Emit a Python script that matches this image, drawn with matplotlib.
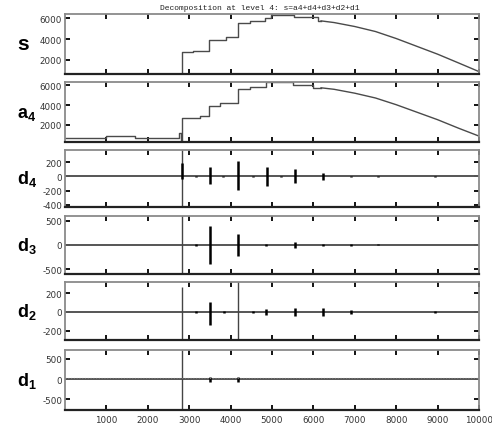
import matplotlib
matplotlib.use("Agg")
import matplotlib.pyplot as plt

# ---------------- data ----------------
title = "Decomposition at level 4: s=a4+d4+d3+d2+d1"
x_ticks = [1000, 2000, 3000, 4000, 5000, 6000, 7000, 8000, 9000, 10000]

# signal s : stepped part then descending curve
s_step_x = [0, 2830, 3100, 3490, 3900, 4180, 4460, 4830, 4980, 5540, 6100]
s_step_y = [690, 2750, 2850, 3950, 4200, 5550, 5770, 6000, 6330, 6080, 5760]
s_curve_x = [6185, 6500, 7000, 7500, 8000, 8500, 9000, 9500, 10000]
s_curve_y = [5740, 5580, 5200, 4720, 4050, 3300, 2550, 1720, 880]

# approximation a4
a4_step_x = [0, 1000, 1700, 2760, 2800, 2834, 3250, 3490, 3740, 4180, 4460, 4860, 5500, 6000]
a4_step_y = [730, 860, 730, 1250, 340, 2700, 2880, 3950, 4190, 5570, 5800, 6300, 5970, 5720]
a4_curve_x = [6185, 6500, 7000, 7500, 8000, 8500, 9000, 9500, 10000]
a4_curve_y = [5720, 5570, 5180, 4700, 4030, 3280, 2530, 1690, 890]

# details: spike positions with their upper / lower values
d4_pos = [2834, 3160, 3500, 3820, 4180, 4540, 4880, 5220, 5545, 6225, 6905, 7570, 8930]
d4_hi = [185, 12, 140, 12, 225, 12, 140, 10, 100, 55, 10, 8, 8]
d4_lo = [-35, -12, -105, -12, -195, -12, -130, -10, -92, -50, -10, -8, -8]
d4_big_pos = [2834]
d4_big_hi = [1500]
d4_big_lo = [-1500]

d3_pos = [3160, 3500, 4180, 4860, 5545, 6225, 6905, 7570]
d3_hi = [15, 400, 215, 25, 55, 20, 15, 12]
d3_lo = [-15, -395, -220, -25, -55, -20, -15, -12]
d3_big_pos = [2834]
d3_big_hi = [2000]
d3_big_lo = [-2000]

d2_pos = [3160, 3500, 3850, 4530, 4860, 5545, 6225, 6905, 8930]
d2_hi = [10, 110, 10, 12, 35, 40, 40, 20, 10]
d2_lo = [-10, -145, -10, -12, -35, -40, -40, -20, -10]
d2_big_pos = [2834, 4180]
d2_big_hi = [262, 1500]
d2_big_lo = [-1500, -1500]

d1_pos = [3500, 4180]
d1_hi = [60, 60]
d1_lo = [-60, -60]
d1_big_pos = [2834]
d1_big_hi = [2000]
d1_big_lo = [-2000]
d1_noise = 35

# ---------------- figure ----------------
plt.rcParams["axes.unicode_minus"] = False
plt.rcParams["mathtext.fontset"] = "custom"
plt.rcParams["mathtext.bf"] = "Liberation Sans:bold"
plt.rcParams["mathtext.rm"] = "Liberation Sans"

W, H = 492, 427
fig = plt.figure(figsize=(W / 100, H / 100), dpi=100)

left_px, right_px = 65, 479
tops = [15, 82.7, 150.7, 217.3, 283.3, 350.7]
bots = [75, 142.7, 207.7, 275, 341, 410.7]

ylims = [(650, 6400), (330, 6330), (-430, 380), (-600, 590), (-300, 315), (-750, 720)]
yticks = [[2000, 4000, 6000], [2000, 4000, 6000], [-400, -200, 0, 200],
          [-500, 0, 500], [-200, 0, 200], [-500, 0, 500]]
labels = [r"$\mathbf{s}$", r"$\mathbf{a}_\mathbf{4}$", r"$\mathbf{d}_\mathbf{4}$",
          r"$\mathbf{d}_\mathbf{3}$", r"$\mathbf{d}_\mathbf{2}$", r"$\mathbf{d}_\mathbf{1}$"]
label_sizes = [15, 13, 13, 13, 13, 13]

axes = []
for i in range(6):
    ax = fig.add_axes([left_px / W, 1 - bots[i] / H,
                       (right_px - left_px) / W, (bots[i] - tops[i]) / H])
    ax.set_xlim(0, 10000)
    ax.set_ylim(*ylims[i])
    ax.set_xticks(x_ticks)
    ax.set_yticks(yticks[i])
    ax.tick_params(direction="in", length=3.5, width=1.3, color="black",
                   top=True, right=True, labelsize=6.3, labelcolor="#333333",
                   pad=2)
    ax.tick_params(axis="x", pad=3.5)
    if i < 5:
        ax.set_xticklabels([])
    for name, sp in ax.spines.items():
        sp.set_color("#8a8a8a")
        sp.set_linewidth(1.3)
    ax.spines["bottom"].set_color("#222222")
    ax.spines["bottom"].set_linewidth(1.6)
    axes.append(ax)
    cy = (tops[i] + bots[i]) / 2
    fig.text(17 / W, 1 - (cy + 5) / H, labels[i], fontsize=label_sizes[i],
             ha="left", va="baseline", color="black")

line_c = "#4a4a4a"
# s
axes[0].plot(s_step_x + [s_curve_x[0]], s_step_y + [s_step_y[-1]],
             drawstyle="steps-post", color=line_c, lw=1.0)
axes[0].plot(s_curve_x, s_curve_y, color=line_c, lw=1.0)
axes[0].hlines(s_step_y[0], 0, s_step_x[1], color="black", lw=2.0)
# a4
axes[1].plot(a4_step_x + [a4_curve_x[0]], a4_step_y + [a4_step_y[-1]],
             drawstyle="steps-post", color=line_c, lw=1.0)
axes[1].plot(a4_curve_x, a4_curve_y, color=line_c, lw=1.0)

details = [
    (d4_pos, d4_hi, d4_lo, d4_big_pos, d4_big_hi, d4_big_lo),
    (d3_pos, d3_hi, d3_lo, d3_big_pos, d3_big_hi, d3_big_lo),
    (d2_pos, d2_hi, d2_lo, d2_big_pos, d2_big_hi, d2_big_lo),
    (d1_pos, d1_hi, d1_lo, d1_big_pos, d1_big_hi, d1_big_lo),
]
for k, (pos, hi, lo, bpos, bhi, blo) in enumerate(details):
    ax = axes[2 + k]
    ax.axhline(0, color="#555555", lw=1.4)
    ax.vlines(bpos, blo, bhi, color="#444444", lw=1.0)
    ax.vlines(pos, lo, hi, color="black", lw=1.8)
    ax.set_ylim(*ylims[2 + k])

# d1 noise texture
axes[5].axhline(d1_noise, color="#777777", lw=0.8, ls=(0, (1, 1.5)))

fig.text(0.528, 1 - 8 / H, title, fontsize=5.8, family="Liberation Mono",
         ha="center", va="center", color="#222222")

fig.savefig("out.png", dpi=100)
